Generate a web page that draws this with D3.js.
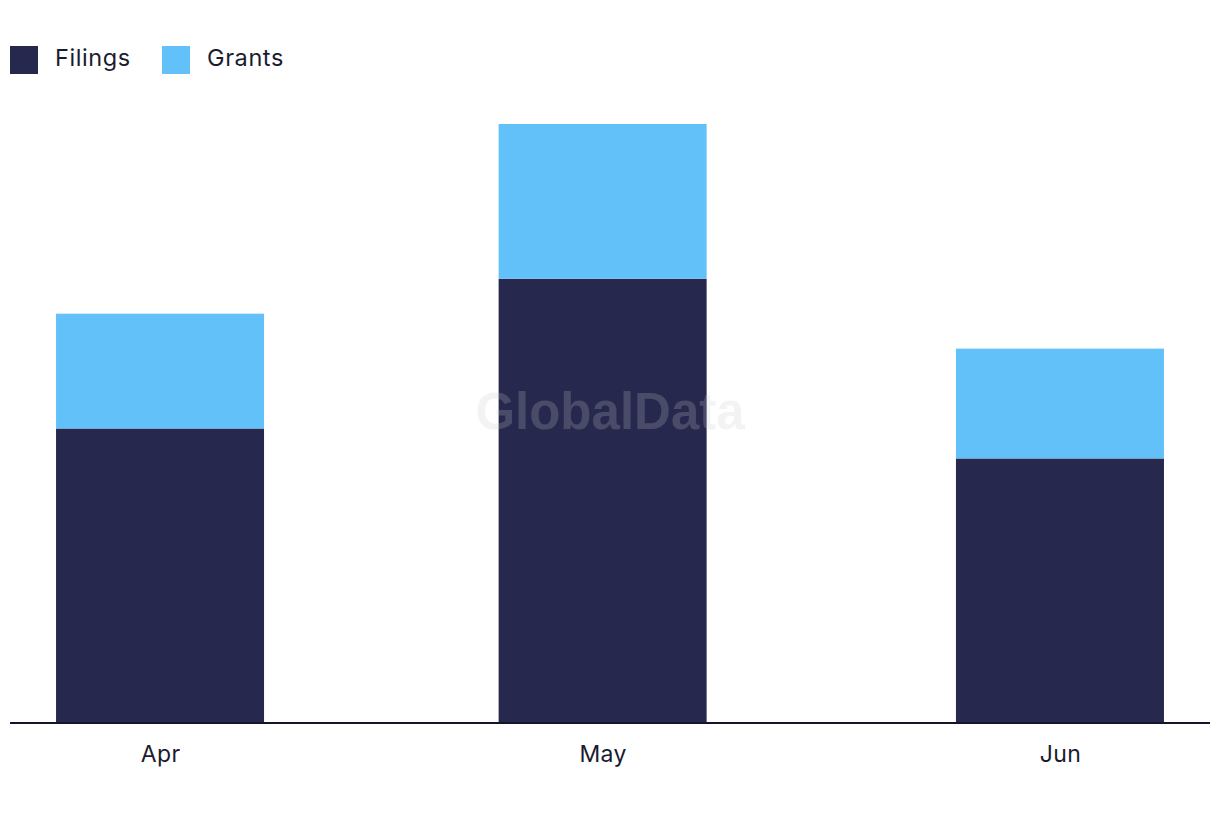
<!DOCTYPE html>
<html lang="en">
<head>
    <meta charset="UTF-8">
    <title>Filings and Grants</title>
    <script src="https://d3js.org/d3.v7.min.js"></script>
    <style>
        body { margin: 0; background: #fff; }
    </style>
</head>
<body>
    <svg id="chart" width="1220" height="822"></svg>

    <script>
        const months = ["2024-04-01", "2024-05-01", "2024-06-01"];
        const seriesNames = ["Filings", "Grants"];
        const filings = [59, 89, 53];
        const grants = [23, 31, 22];
        const colors = ["#27284d", "#62c1f9"];

        const svg = d3.select("#chart"),
            width = +svg.attr("width"),
            height = +svg.attr("height");

        const plotLeft = 10, plotRight = 1210, baseline = 723, plotTop = 124;
        const barWidth = 208;
        const textColor = "#1b1b2f";
        const font = "Inter, 'Noto Sans', sans-serif";

        const dates = months.map(d => new Date(d + "T00:00:00Z"));
        const dayMs = 24 * 3600 * 1000;
        const pad = 10.17 * dayMs;

        const x = d3.scaleUtc()
            .domain([new Date(+dates[0] - pad), new Date(+dates[dates.length - 1] + pad)])
            .range([plotLeft, plotRight]);

        const y = d3.scaleLinear()
            .domain([0, 120])
            .range([baseline, plotTop]);

        const rows = dates.map((d, i) => ({date: d, Filings: filings[i], Grants: grants[i]}));
        const stacked = d3.stack().keys(seriesNames)(rows);

        const color = d3.scaleOrdinal().domain(seriesNames).range(colors);

        svg.append("g")
            .selectAll("g")
            .data(stacked)
            .join("g")
            .attr("fill", d => color(d.key))
            .selectAll("rect")
            .data(d => d)
            .join("rect")
            .attr("x", d => x(d.data.date) - barWidth / 2)
            .attr("width", barWidth)
            .attr("y", d => y(d[1]))
            .attr("height", d => y(d[0]) - y(d[1]));

        // x axis
        const xAxis = svg.append("g")
            .attr("transform", `translate(0,${baseline})`)
            .call(d3.axisBottom(x)
                .tickValues(dates)
                .tickFormat(d3.utcFormat("%b"))
                .tickSize(0)
                .tickPadding(23));
        xAxis.select(".domain")
            .attr("stroke", "#14142a")
            .attr("stroke-width", 2)
            .attr("d", `M${plotLeft},0H${plotRight}`);
        xAxis.selectAll("text")
            .attr("font-family", font)
            .attr("font-size", 23)
            .attr("letter-spacing", 0.4)
            .attr("fill", textColor);

        // legend
        const legendX = [10, 162];
        const legend = svg.append("g")
            .selectAll("g")
            .data(seriesNames)
            .join("g")
            .attr("transform", (d, i) => `translate(${legendX[i]},46)`);
        legend.append("rect")
            .attr("width", 28)
            .attr("height", 28)
            .attr("fill", d => color(d));
        legend.append("text")
            .attr("x", 45)
            .attr("y", 20)
            .attr("font-family", font)
            .attr("font-size", 23.5)
            .attr("letter-spacing", 0.6)
            .attr("fill", textColor)
            .text(d => d);

        // watermark
        svg.append("text")
            .attr("x", 610)
            .attr("y", 429)
            .attr("text-anchor", "middle")
            .attr("font-family", "'Liberation Sans', Arial, sans-serif")
            .attr("font-weight", "bold")
            .attr("font-size", 51)
            .attr("fill", "#c8c8c8")
            .attr("fill-opacity", 0.22)
            .text("GlobalData");
    </script>
</body>
</html>
